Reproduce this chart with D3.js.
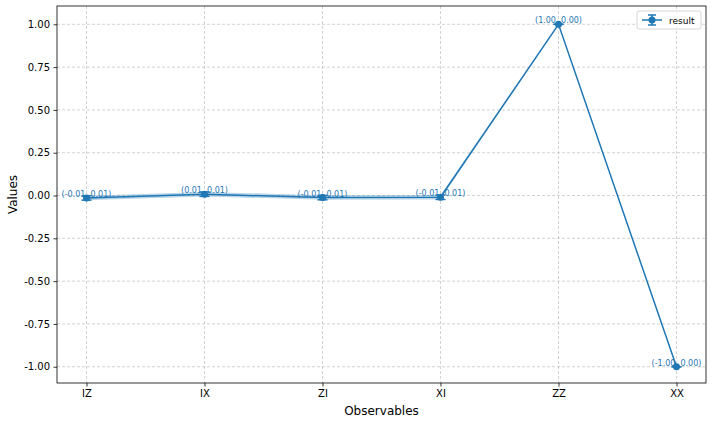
<!DOCTYPE html>
<html>
<head>
<meta charset="utf-8">
<script src="https://cdn.jsdelivr.net/npm/d3@7"></script>
<style>
  body { margin: 0; background: #fff; }
  svg { font-family: "DejaVu Sans", sans-serif; }
</style>
</head>
<body>
<svg id="chart" width="712" height="424"></svg>
<script>
// observables and their expectation values
var observables = ["IZ", "IX", "ZI", "XI", "ZZ", "XX"];
var values = [-0.014, 0.008, -0.012, -0.010, 1.00, -1.00];
var errors = [0.013, 0.013, 0.013, 0.013, 0.00, 0.00];
var yTicks = [-1.00, -0.75, -0.50, -0.25, 0.00, 0.25, 0.50, 0.75, 1.00];

var color = "#1f77b4";
var margin = {left: 57, right: 6, top: 6, bottom: 41};
var W = 712, H = 424;

var svg = d3.select("#chart");

var x = d3.scaleLinear().domain([-0.25, 5.25]).range([margin.left, W - margin.right]);
var y = d3.scaleLinear().domain([-1.095, 1.107]).range([H - margin.bottom, margin.top]);

var data = observables.map(function(o, i) {
  return {name: o, i: i, v: values[i], e: errors[i]};
});

// grid
var g = svg.append("g");
g.selectAll("line.gx").data(data).enter().append("line")
  .attr("x1", function(d) { return x(d.i); }).attr("x2", function(d) { return x(d.i); })
  .attr("y1", margin.top).attr("y2", H - margin.bottom)
  .attr("stroke", "#b0b0b0").attr("stroke-width", 0.8).attr("stroke-dasharray", "3,2").attr("opacity", 0.7);
g.selectAll("line.gy").data(yTicks).enter().append("line")
  .attr("x1", margin.left).attr("x2", W - margin.right)
  .attr("y1", function(d) { return y(d); }).attr("y2", function(d) { return y(d); })
  .attr("stroke", "#b0b0b0").attr("stroke-width", 0.8).attr("stroke-dasharray", "3,2").attr("opacity", 0.7);

// error band
var area = d3.area()
  .x(function(d) { return x(d.i); })
  .y0(function(d) { return y(d.v - d.e); })
  .y1(function(d) { return y(d.v + d.e); });
svg.append("path").datum(data).attr("d", area).attr("fill", color).attr("opacity", 0.3);

// line
var line = d3.line().x(function(d) { return x(d.i); }).y(function(d) { return y(d.v); });
svg.append("path").datum(data).attr("d", line)
  .attr("fill", "none").attr("stroke", color).attr("stroke-width", 1.5);

// error bars
var eb = svg.append("g").selectAll("g").data(data).enter().append("g");
eb.append("line")
  .attr("x1", function(d) { return x(d.i); }).attr("x2", function(d) { return x(d.i); })
  .attr("y1", function(d) { return y(d.v - d.e); }).attr("y2", function(d) { return y(d.v + d.e); })
  .attr("stroke", color).attr("stroke-width", 1.5);
eb.selectAll("line.cap").data(function(d) { return [d.v - d.e, d.v + d.e].map(function(v) { return {i: d.i, v: v}; }); })
  .enter().append("line")
  .attr("x1", function(d) { return x(d.i) - 5; }).attr("x2", function(d) { return x(d.i) + 5; })
  .attr("y1", function(d) { return y(d.v); }).attr("y2", function(d) { return y(d.v); })
  .attr("stroke", color).attr("stroke-width", 1.5);

// markers
svg.append("g").selectAll("circle").data(data).enter().append("circle")
  .attr("cx", function(d) { return x(d.i); }).attr("cy", function(d) { return y(d.v); })
  .attr("r", 3.5).attr("fill", color);

// value labels
svg.append("g").selectAll("text").data(data).enter().append("text")
  .attr("x", function(d) { return x(d.i); }).attr("y", function(d) { return y(d.v) - 1; })
  .attr("text-anchor", "middle").attr("font-size", 8).attr("fill", color)
  .text(function(d) { return "(" + d.v.toFixed(2) + ", " + d.e.toFixed(2) + ")"; });

// axes
var xAxis = d3.axisBottom(x).tickValues(data.map(function(d) { return d.i; }))
  .tickFormat(function(i) { return observables[i]; }).tickSize(3.5).tickPadding(3.5);
var yAxis = d3.axisLeft(y).tickValues(yTicks).tickFormat(d3.format(".2f")).tickSize(3.5).tickPadding(3.5);

var gx = svg.append("g").attr("transform", "translate(0," + (H - margin.bottom) + ")").call(xAxis);
var gy = svg.append("g").attr("transform", "translate(" + margin.left + ",0)").call(yAxis);
[gx, gy].forEach(function(a) {
  a.select(".domain").remove();
  a.selectAll("text").attr("font-size", 10).attr("font-family", "DejaVu Sans").attr("fill", "#000");
  a.selectAll("line").attr("stroke", "#000").attr("stroke-width", 0.8);
});
gy.selectAll("text").text(function(d) { return d3.format(".2f")(d).replace("−", "-"); });

svg.append("rect")
  .attr("x", margin.left).attr("y", margin.top)
  .attr("width", W - margin.left - margin.right).attr("height", H - margin.top - margin.bottom)
  .attr("fill", "none").attr("stroke", "#000").attr("stroke-width", 0.8);

svg.append("text").attr("x", (margin.left + W - margin.right) / 2).attr("y", 415)
  .attr("text-anchor", "middle").attr("font-size", 12).text("Observables");
svg.append("text").attr("transform", "translate(17," + ((margin.top + H - margin.bottom) / 2) + ") rotate(-90)")
  .attr("text-anchor", "middle").attr("font-size", 12).text("Values");

// legend
var lg = svg.append("g").attr("transform", "translate(637,11)");
lg.append("rect").attr("width", 64).attr("height", 18).attr("rx", 2)
  .attr("fill", "#fff").attr("fill-opacity", 0.8).attr("stroke", "#ccc").attr("stroke-width", 0.8);
lg.append("line").attr("x1", 5).attr("x2", 25).attr("y1", 9).attr("y2", 9).attr("stroke", color).attr("stroke-width", 1.5);
lg.append("line").attr("x1", 15).attr("x2", 15).attr("y1", 4).attr("y2", 14).attr("stroke", color).attr("stroke-width", 1.5);
lg.append("line").attr("x1", 11).attr("x2", 19).attr("y1", 4).attr("y2", 4).attr("stroke", color).attr("stroke-width", 1.5);
lg.append("line").attr("x1", 11).attr("x2", 19).attr("y1", 14).attr("y2", 14).attr("stroke", color).attr("stroke-width", 1.5);
lg.append("circle").attr("cx", 15).attr("cy", 9).attr("r", 3.5).attr("fill", color);
lg.append("text").attr("x", 32).attr("y", 12.5).attr("font-size", 9).text("result");
</script>
</body>
</html>
